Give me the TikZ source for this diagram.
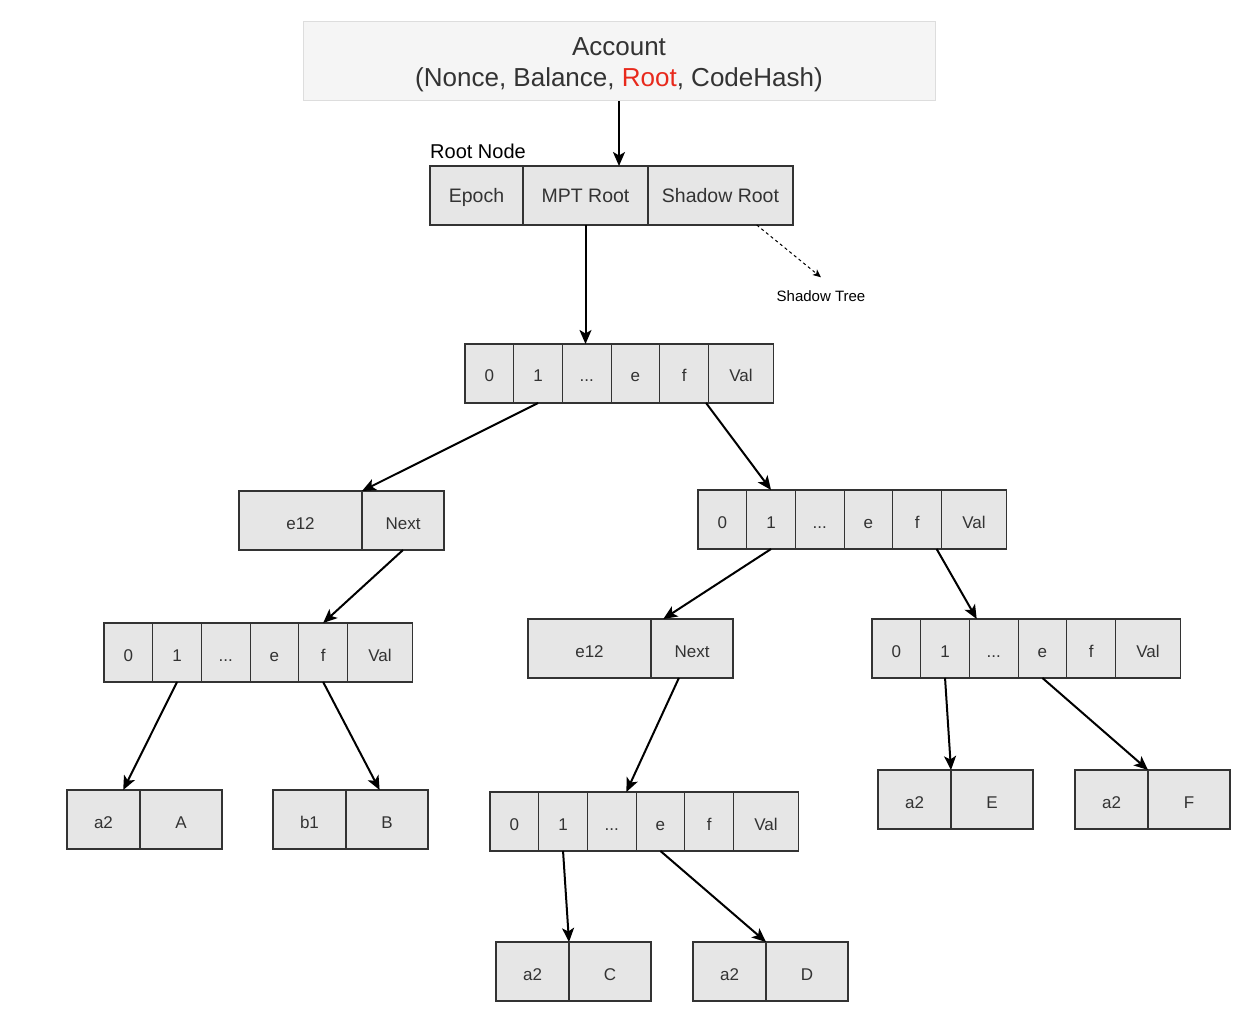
\documentclass[tikz,border=0pt]{standalone}
\usepackage{fontspec}
\setmainfont{Liberation Sans}
\usetikzlibrary{arrows.meta, positioning, calc}
\definecolor{cellfill}{HTML}{E6E6E6}
\definecolor{cellline}{HTML}{333333}
\definecolor{acctfill}{HTML}{F5F5F5}
\definecolor{acctline}{HTML}{DDDDDD}
\definecolor{txtgray}{HTML}{333333}
\definecolor{rootred}{HTML}{E8291C}
\tikzset{
  cell/.style ={rectangle, draw=cellline, fill=cellfill, line width=1.2pt, minimum height=59pt, inner sep=0pt, outer sep=0pt, text=txtgray, font=\fontsize{17}{20}\selectfont, text height=17pt, text depth=0pt},
  rcell/.style={cell, font=\fontsize{19.5}{23}\selectfont, text height=14pt},
  acct/.style ={rectangle, draw=acctline, fill=acctfill, line width=1pt, minimum width=632pt, minimum height=79pt, align=center, text=txtgray, font=\fontsize{26}{31}\selectfont, text height=49.6pt, text depth=0pt},
  lbl/.style  ={inner sep=0pt, font=\fontsize{20}{24}\selectfont},
  lbls/.style ={inner sep=0pt, font=\fontsize{15}{18}\selectfont},
  fl/.style   ={-{Stealth[length=14pt, width=12pt, inset=3.5pt]}, line width=2pt},
  dfl/.style  ={-{Stealth[length=8pt, width=7pt, inset=2pt]}, line width=1pt, dash pattern=on 3pt off 3pt},
}
% branch node: name, west x, top y
\newcommand{\trienode}[3]{%
  \node[cell, minimum width=48.7pt, anchor=north west] (#1-0) at (#2,#3) {0};
  \node[cell, minimum width=48.7pt, right=0pt of #1-0] (#1-1) {1};
  \node[cell, minimum width=48.7pt, right=0pt of #1-1] (#1-2) {...};
  \node[cell, minimum width=48.7pt, right=0pt of #1-2] (#1-3) {e};
  \node[cell, minimum width=48.7pt, right=0pt of #1-3] (#1-4) {f};
  \node[cell, minimum width=65pt, right=0pt of #1-4] (#1-5) {Val};
}
% extension node: name, west x, top y, key
\newcommand{\extnode}[4]{%
  \node[cell, minimum width=123pt, anchor=north west] (#1-k) at (#2,#3) {#4};
  \node[cell, minimum width=82pt, right=0pt of #1-k] (#1-v) {Next};
}
% leaf node: name, west x, top y, key, value
\newcommand{\leafnode}[5]{%
  \node[cell, minimum width=73pt, anchor=north west] (#1-k) at (#2,#3) {#4};
  \node[cell, minimum width=82pt, right=0pt of #1-k] (#1-v) {#5};
}
\begin{document}
\begin{tikzpicture}[x=1pt, y=-1pt]
  \useasboundingbox (0,0) rectangle (1254,1032);
  \node[acct] (acct) at (619,61.5) {Account\\(Nonce, Balance, \textcolor{rootred}{Root}, CodeHash)};
  % root node
  \node[rcell, minimum width=93pt, anchor=north west] (rn-ep) at (430,166) {Epoch};
  \node[rcell, minimum width=125pt, right=0pt of rn-ep] (rn-mpt) {MPT Root};
  \node[rcell, minimum width=145pt, right=0pt of rn-mpt] (rn-sh) {Shadow Root};
  \node[lbl, anchor=base west] (rnlabel) at ([yshift=7pt]rn-ep.north west) {Root Node};
  \node[lbls] (shtree) at (821,296) {Shadow Tree};
  % trie
  \trienode{b1}{465}{344}
  \extnode{ex1}{239}{491}{e12}
  \trienode{b2}{698}{490}
  \trienode{b3}{104}{623}
  \extnode{ex2}{528}{619}{e12}
  \trienode{b4}{872}{619}
  \trienode{b5}{490}{792}
  \leafnode{l1}{67}{790}{a2}{A}
  \leafnode{l2}{273}{790}{b1}{B}
  \leafnode{l3}{496}{942}{a2}{C}
  \leafnode{l4}{693}{942}{a2}{D}
  \leafnode{l5}{878}{770}{a2}{E}
  \leafnode{l6}{1075}{770}{a2}{F}
  % links
  \draw[fl] (acct.south) -- (acct.south |- rn-mpt.north);
  \draw[fl] (rn-mpt.south) -- (rn-mpt.south |- b1-2.north);
  \draw[dfl] ($(rn-sh.south)!0.5!(rn-sh.south east)$) -- ([yshift=13pt]shtree.north);
  \draw[fl] (b1-1.south) -- (ex1-k.north east);
  \draw[fl] ($(b1-4.south west)!0.95!(b1-4.south east)$) -- (b2-1.north);
  \draw[fl] (ex1-v.south) -- (b3-4.north);
  \draw[fl] (b3-1.south) -- ($(l1-k.north west)!0.77!(l1-k.north east)$);
  \draw[fl] (b3-4.south) -- ($(l2-v.north west)!0.41!(l2-v.north east)$);
  \draw[fl] (b2-1.south) -- ($(ex2-v.north west)!0.15!(ex2-v.north east)$);
  \draw[fl] ($(b2-4.south west)!0.9!(b2-4.south east)$) -- ($(b4-2.north west)!0.15!(b4-2.north east)$);
  \draw[fl] ($(ex2-v.south west)!0.34!(ex2-v.south east)$) -- ($(b5-2.north west)!0.8!(b5-2.north east)$);
  \draw[fl] (b5-1.south) -- (l3-k.north east);
  \draw[fl] (b5-3.south) -- (l4-k.north east);
  \draw[fl] (b4-1.south) -- (l5-k.north east);
  \draw[fl] (b4-3.south) -- (l6-k.north east);
\end{tikzpicture}
\end{document}
